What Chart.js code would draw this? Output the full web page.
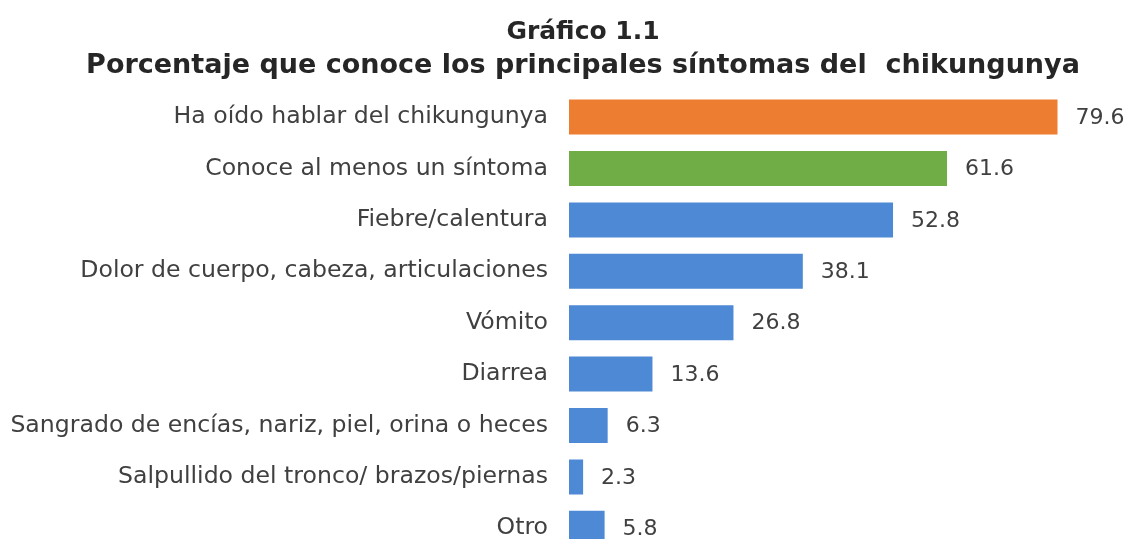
<!DOCTYPE html>
<html>
<head>
<meta charset="utf-8">
<script src="https://cdn.jsdelivr.net/npm/chart.js@4.4.1/dist/chart.umd.min.js"></script>
<style>
  html, body { margin: 0; padding: 0; background: #fff; overflow: hidden; width: 1128px; height: 539px; }
  canvas { display: block; }
</style>
</head>
<body>
<canvas id="c" width="1160" height="562" style="width:1160px;height:562px"></canvas>
<script>
const categories = [
  "Ha oído hablar del chikungunya",
  "Conoce al menos un síntoma",
  "Fiebre/calentura",
  "Dolor de cuerpo, cabeza, articulaciones",
  "Vómito",
  "Diarrea",
  "Sangrado de encías, nariz, piel, orina o heces",
  "Salpullido del tronco/ brazos/piernas",
  "Otro"
];
const values = [79.6, 61.6, 52.8, 38.1, 26.8, 13.6, 6.3, 2.3, 5.8];
const barColors = ["#ED7D31", "#70AD47", "#4E89D5", "#4E89D5", "#4E89D5", "#4E89D5", "#4E89D5", "#4E89D5", "#4E89D5"];
const titleText = "Gráfico 1.1";
const subtitleText = "Porcentaje que conoce los principales síntomas del  chikungunya";

const FONT = "'DejaVu Sans', sans-serif";

const valueLabels = {
  id: 'valueLabels',
  afterDatasetsDraw(chart) {
    const ctx = chart.ctx;
    const meta = chart.getDatasetMeta(0);
    ctx.save();
    ctx.font = "22px " + FONT;
    ctx.fillStyle = "#404040";
    ctx.textBaseline = "middle";
    ctx.textAlign = "left";
    meta.data.forEach((el, i) => {
      ctx.fillText(values[i].toFixed(1), el.x + 18, el.y + 1);
    });
    ctx.restore();
  }
};

new Chart(document.getElementById('c'), {
  type: 'bar',
  data: {
    labels: categories,
    datasets: [{
      data: values,
      backgroundColor: barColors,
      borderWidth: 0,
      categoryPercentage: 0.68,
      barPercentage: 1.0
    }]
  },
  options: {
    indexAxis: 'y',
    responsive: false,
    animation: false,
    layout: { padding: { top: 0, right: 0, bottom: 8, left: 6 } },
    plugins: {
      legend: { display: false },
      tooltip: { enabled: false },
      title: {
        display: true,
        text: titleText,
        color: "#262626",
        font: { family: FONT, size: 25, weight: 'bold' },
        padding: { top: 17, bottom: 2 }
      },
      subtitle: {
        display: true,
        text: subtitleText,
        color: "#262626",
        font: { family: FONT, size: 27, weight: 'bold' },
        padding: { top: 1, bottom: 9 }
      }
    },
    scales: {
      x: {
        display: false,
        min: 0,
        max: 96.3
      },
      y: {
        grid: { display: false },
        border: { display: false },
        afterFit(scale) {
          scale.width = 563;
          scale.paddingTop = 0;
          scale.paddingBottom = 0;
        },
        ticks: {
          color: "#404040",
          font: { family: FONT, size: 23.6 },
          padding: 13
        }
      }
    }
  },
  plugins: [valueLabels]
});
</script>
</body>
</html>
